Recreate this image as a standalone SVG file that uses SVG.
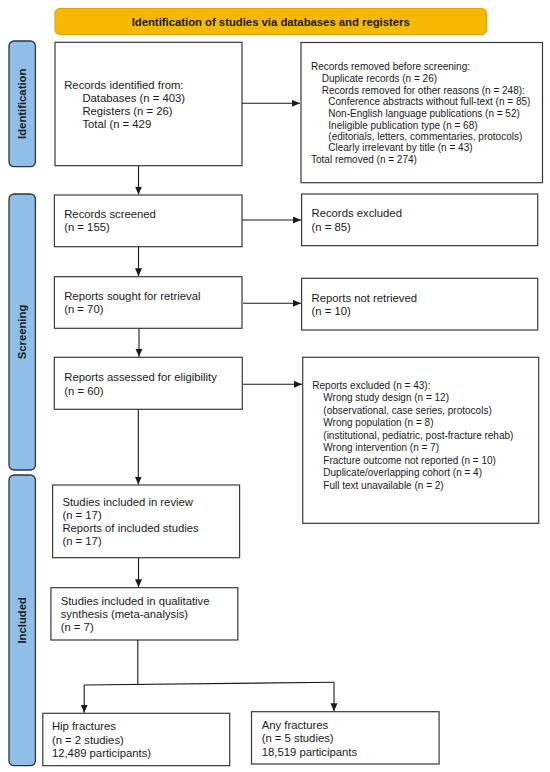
<svg xmlns="http://www.w3.org/2000/svg" width="550" height="772" viewBox="0 0 550 772">
<defs>
<style>
.box{fill:#fff;stroke:#3a3a3a;stroke-width:1.2}
.lbl{fill:#8fbfe6;stroke:#2a3440;stroke-width:1.3}
.t{font-family:"Liberation Sans",Arial,sans-serif;font-size:11.3px;fill:#1a1a1a}
.s{font-family:"Liberation Sans",Arial,sans-serif;font-size:10px;fill:#1a1a1a}
.b{font-family:"Liberation Sans",Arial,sans-serif;font-size:11.3px;font-weight:bold;fill:#1a1a1a}
.c{fill:none;stroke:#1a1a1a;stroke-width:1.1}
</style>
<marker id="ah" markerWidth="9" markerHeight="8" refX="8" refY="3.5" orient="auto" markerUnits="userSpaceOnUse">
<path d="M0,0 L8,3.5 L0,7 z" fill="#1a1a1a"/>
</marker>
</defs>
<rect width="550" height="772" fill="#fff"/>

<g id="title">
<rect x="55" y="8.5" width="431.5" height="26" rx="5" fill="#f6b800" stroke="#e5a800" stroke-width="1.2"/>
<text class="b" x="270.7" y="26.2" text-anchor="middle">Identification of studies via databases and registers</text>
</g>

<g id="label-identification">
<rect class="lbl" x="9" y="41" width="26.4" height="125.7" rx="5"/>
<text class="b" transform="translate(26.2,103.8) rotate(-90)" text-anchor="middle">Identification</text>
</g>
<g id="label-screening">
<rect class="lbl" x="9" y="194" width="26.4" height="276" rx="5"/>
<text class="b" transform="translate(26.2,332) rotate(-90)" text-anchor="middle">Screening</text>
</g>
<g id="label-included">
<rect class="lbl" x="9" y="475" width="26.4" height="290.7" rx="5"/>
<text class="b" transform="translate(26.2,620.3) rotate(-90)" text-anchor="middle">Included</text>
</g>

<g id="records-identified">
<rect class="box" x="55" y="42.3" width="187" height="123.4"/>
<text class="t" x="64.2" y="89">Records identified from:</text>
<text class="t" x="82.4" y="102">Databases (n = 403)</text>
<text class="t" x="82.4" y="115">Registers (n = 26)</text>
<text class="t" x="82.4" y="128">Total (n = 429</text>
</g>

<g id="records-removed">
<rect class="box" x="301" y="42.5" width="241.5" height="140.2"/>
<text class="s" x="311" y="70">Records removed before screening:</text>
<text class="s" x="321.7" y="82">Duplicate records (n = 26)</text>
<text class="s" x="321.7" y="93.5">Records removed for other reasons (n = 248):</text>
<text class="s" x="328.3" y="105">Conference abstracts without full-text (n = 85)</text>
<text class="s" x="328.3" y="117">Non-English language publications (n = 52)</text>
<text class="s" x="328.3" y="128.5">Ineligible publication type (n = 68)</text>
<text class="s" x="328.3" y="140">(editorials, letters, commentaries, protocols)</text>
<text class="s" x="328.3" y="151">Clearly irrelevant by title (n = 43)</text>
<text class="s" x="311" y="162.5">Total removed (n = 274)</text>
</g>

<g id="records-screened">
<rect class="box" x="54.4" y="195" width="187.6" height="51.7"/>
<text class="t" x="64.2" y="218">Records screened</text>
<text class="t" x="64.2" y="231">(n = 155)</text>
</g>

<g id="records-excluded">
<rect class="box" x="301.6" y="194" width="236.1" height="51.7"/>
<text class="t" x="311.5" y="217.3">Records excluded</text>
<text class="t" x="311.5" y="230.7">(n = 85)</text>
</g>

<g id="reports-sought">
<rect class="box" x="54.4" y="276.7" width="187.6" height="51.6"/>
<text class="t" x="64.2" y="300">Reports sought for retrieval</text>
<text class="t" x="64.2" y="313">(n = 70)</text>
</g>

<g id="reports-not-retrieved">
<rect class="box" x="301.6" y="278.3" width="236.1" height="51.7"/>
<text class="t" x="311.5" y="301.7">Reports not retrieved</text>
<text class="t" x="311.5" y="314.7">(n = 10)</text>
</g>

<g id="reports-assessed">
<rect class="box" x="54.3" y="357.3" width="188" height="52"/>
<text class="t" x="64.3" y="380.7">Reports assessed for eligibility</text>
<text class="t" x="64.3" y="395">(n = 60)</text>
</g>

<g id="reports-excluded">
<rect class="box" x="302.7" y="357.3" width="236" height="166"/>
<text class="s" x="312.3" y="388.5">Reports excluded (n = 43):</text>
<text class="s" x="323.3" y="401">Wrong study design (n = 12)</text>
<text class="s" x="323.3" y="413.5">(observational, case series, protocols)</text>
<text class="s" x="323.3" y="426">Wrong population (n = 8)</text>
<text class="s" x="323.3" y="438.5">(institutional, pediatric, post-fracture rehab)</text>
<text class="s" x="323.3" y="451">Wrong intervention (n = 7)</text>
<text class="s" x="323.3" y="463.5">Fracture outcome not reported (n = 10)</text>
<text class="s" x="323.3" y="476">Duplicate/overlapping cohort (n = 4)</text>
<text class="s" x="323.3" y="488.5">Full text unavailable (n = 2)</text>
</g>

<g id="studies-included">
<rect class="box" x="52.6" y="485" width="187" height="72.7"/>
<text class="t" x="62.4" y="506.3">Studies included in review</text>
<text class="t" x="62.4" y="519">(n = 17)</text>
<text class="t" x="62.4" y="531.7">Reports of included studies</text>
<text class="t" x="62.4" y="545">(n = 17)</text>
</g>

<g id="qualitative-synthesis">
<rect class="box" x="50.9" y="587.7" width="186.9" height="52.3"/>
<text class="t" x="60.7" y="605">Studies included in qualitative</text>
<text class="t" x="60.7" y="618.3">synthesis (meta-analysis)</text>
<text class="t" x="60.7" y="631.3">(n = 7)</text>
</g>

<g id="hip-fractures">
<rect class="box" x="42.8" y="713.3" width="186.9" height="52.4"/>
<text class="t" x="51.9" y="730">Hip fractures</text>
<text class="t" x="51.9" y="744">(n = 2 studies)</text>
<text class="t" x="51.9" y="756.7">12,489 participants)</text>
</g>

<g id="any-fractures">
<rect class="box" x="251.5" y="711.7" width="187.6" height="52.3"/>
<text class="t" x="261.7" y="729.3">Any fractures</text>
<text class="t" x="261.7" y="742">(n = 5 studies)</text>
<text class="t" x="261.7" y="755.7">18,519 participants</text>
</g>

<g id="connectors">
<line class="c" x1="242" y1="103.3" x2="300" y2="103.3" marker-end="url(#ah)"/>
<line class="c" x1="138.5" y1="165.7" x2="138.5" y2="194.5" marker-end="url(#ah)"/>
<line class="c" x1="242" y1="220" x2="301" y2="220" marker-end="url(#ah)"/>
<line class="c" x1="138.5" y1="246.7" x2="138.5" y2="276.2" marker-end="url(#ah)"/>
<line class="c" x1="243" y1="303.3" x2="301" y2="303.3" marker-end="url(#ah)"/>
<line class="c" x1="139" y1="328.3" x2="139" y2="356.8" marker-end="url(#ah)"/>
<line class="c" x1="243" y1="384.3" x2="302" y2="384.3" marker-end="url(#ah)"/>
<line class="c" x1="138.3" y1="409.3" x2="138.3" y2="484.5" marker-end="url(#ah)"/>
<line class="c" x1="138.5" y1="557.7" x2="138.5" y2="587.2" marker-end="url(#ah)"/>
<polyline class="c" points="137.8,640 137.8,684.5"/>
<polyline class="c" points="84.2,685 334,682.3"/>
<line class="c" x1="84.2" y1="685" x2="84.2" y2="712.8" marker-end="url(#ah)"/>
<line class="c" x1="334" y1="682.3" x2="334" y2="711.2" marker-end="url(#ah)"/>
</g>
</svg>
